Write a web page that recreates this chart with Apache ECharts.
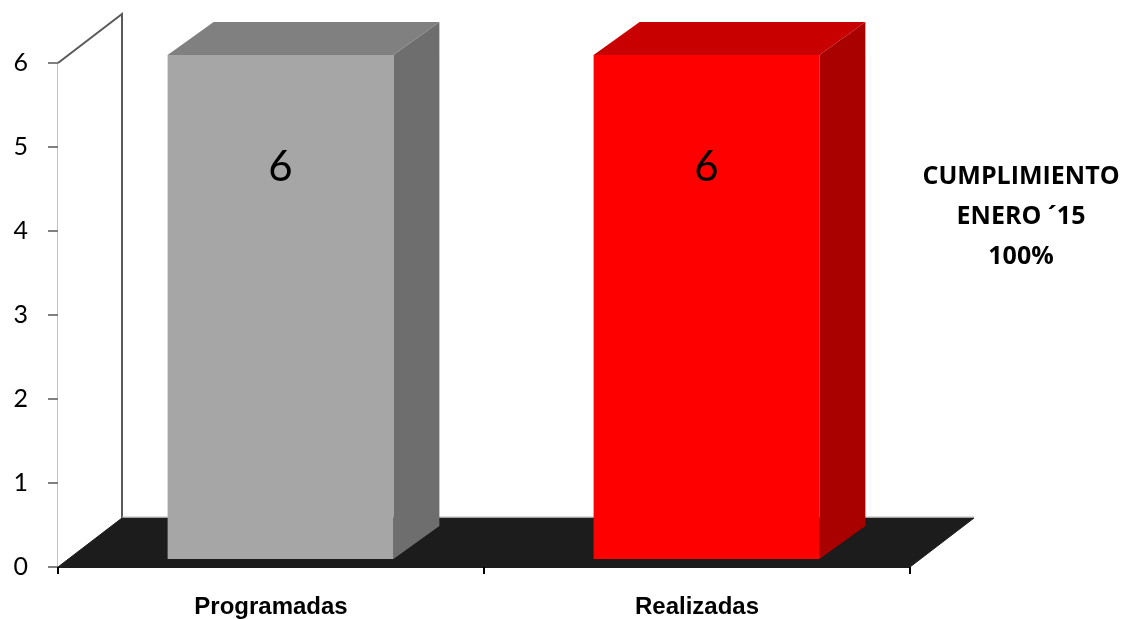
<!DOCTYPE html>
<html>
<head>
<meta charset="utf-8">
<script src="https://cdn.jsdelivr.net/npm/echarts@6/dist/echarts.min.js"></script>
<style>
  html, body { margin: 0; padding: 0; background: #ffffff; }
  #chart { width: 1130px; height: 619px; }
</style>
</head>
<body>
<div id="chart"></div>
<script>
// Activities planned vs. carried out
const categories = ['Programadas', 'Realizadas'];
const values = [6, 6];
const yTicks = [0, 1, 2, 3, 4, 5, 6];
const noteLines = ['CUMPLIMIENTO', 'ENERO \u00b415', '100%'];

// Face colours per bar: front, side, top
const faceColors = [
  { front: '#a6a6a6', side: '#6e6e6e', top: '#808080' },
  { front: '#ff0000', side: '#a90000', top: '#c80000' }
];

// Perspective offsets (pixels)
const WALL_DX = 64, WALL_DY = -49;   // depth of floor / side wall
const BAR_DX = 46, BAR_DY = -33;     // depth of each bar
const BAR_SHIFT_X = 9.5, BAR_SHIFT_Y = -8; // bars sit a little behind the front edge
const BAR_RATIO = 0.53;

const chart = echarts.init(document.getElementById('chart'));

// Floor and left wall, drawn from the axis scale
function renderFrame(params, api) {
  const x0 = api.coord([0, 0]);
  const band = api.size([1, 0])[0];
  const left = x0[0] - band / 2;
  const right = left + band * categories.length;
  const base = x0[1];
  const topY = api.coord([0, yTicks[yTicks.length - 1]])[1];
  return {
    type: 'group',
    children: [
      {
        type: 'polygon',
        shape: { points: [[left, base], [left, topY], [left + WALL_DX, topY + WALL_DY], [left + WALL_DX, base + WALL_DY]] },
        style: { fill: '#ffffff', stroke: null }
      },
      {
        type: 'polyline',
        shape: { points: [[left, topY], [left + WALL_DX, topY + WALL_DY], [left + WALL_DX, base + WALL_DY]] },
        style: { stroke: '#5a5a5a', lineWidth: 2, fill: null }
      },
      {
        type: 'polygon',
        shape: { points: [[left, base], [left + WALL_DX, base + WALL_DY], [right + WALL_DX, base + WALL_DY], [right, base]] },
        style: { fill: '#1c1c1c', stroke: '#1c1c1c', lineWidth: 1 }
      },
      {
        type: 'line',
        shape: { x1: left + WALL_DX, y1: base + WALL_DY - 1, x2: right + WALL_DX, y2: base + WALL_DY - 1 },
        style: { stroke: '#b8b8b8', lineWidth: 1 }
      }
    ]
  };
}

// 3D box for each bar
function renderBar(params, api) {
  const idx = api.value(0);
  const val = api.value(1);
  const top = api.coord([idx, val]);
  const bottom = api.coord([idx, 0]);
  const band = api.size([1, 0])[0];
  const w = band * BAR_RATIO;
  const xl = top[0] - w / 2 + BAR_SHIFT_X;
  const xr = xl + w;
  const yt = top[1] + BAR_SHIFT_Y;
  const yb = bottom[1] + BAR_SHIFT_Y;
  const c = faceColors[idx];
  return {
    type: 'group',
    children: [
      {
        type: 'polygon',
        shape: { points: [[xr, yb], [xr, yt], [xr + BAR_DX, yt + BAR_DY], [xr + BAR_DX, yb + BAR_DY]] },
        style: { fill: c.side }
      },
      {
        type: 'polygon',
        shape: { points: [[xl, yt], [xl + BAR_DX, yt + BAR_DY], [xr + BAR_DX, yt + BAR_DY], [xr, yt]] },
        style: { fill: c.top }
      },
      {
        type: 'rect',
        shape: { x: xl, y: yt, width: w, height: yb - yt },
        style: { fill: c.front }
      },
      {
        type: 'text',
        x: (xl + xr) / 2,
        y: yt + 112,
        style: {
          text: String(val),
          fill: '#000000',
          fontSize: 42,
          fontWeight: 'normal',
          fontFamily: 'Lato, "Noto Sans", sans-serif',
          align: 'center',
          verticalAlign: 'middle'
        }
      }
    ]
  };
}

chart.setOption({
  animation: false,
  backgroundColor: '#ffffff',
  grid: { left: 58, right: 220, top: 63, bottom: 52, containLabel: false },
  title: {
    text: noteLines.join('\n'),
    left: 1016,
    top: 152,
    textAlign: 'center',
    textStyle: {
      fontFamily: '"Open Sans", sans-serif',
      fontWeight: 'bold',
      fontSize: 25,
      lineHeight: 40,
      color: '#000000'
    }
  },
  xAxis: {
    type: 'category',
    data: categories,
    boundaryGap: true,
    axisLine: { show: true, lineStyle: { color: '#1c1c1c', width: 1 } },
    axisTick: { show: true, length: 7, lineStyle: { color: '#000000', width: 2 } },
    axisLabel: {
      margin: 28,
      color: '#000000',
      fontFamily: '"Liberation Sans", Arial, sans-serif',
      fontWeight: 'bold',
      fontSize: 24
    },
    splitLine: { show: false },
    z: 5
  },
  yAxis: {
    type: 'value',
    min: yTicks[0],
    max: yTicks[yTicks.length - 1],
    interval: 1,
    axisLine: { show: true, lineStyle: { color: '#c4c4c4', width: 2 } },
    axisTick: { show: true, length: 10, lineStyle: { color: '#808080', width: 2 } },
    axisLabel: {
      margin: 30,
      color: '#000000',
      fontFamily: 'Lato, "Noto Sans", sans-serif',
      fontSize: 25,
      formatter: v => String(v)
    },
    splitLine: { show: false }
  },
  series: [
    {
      type: 'custom',
      name: 'frame',
      renderItem: renderFrame,
      data: [[0, 0]],
      encode: { x: 0, y: 1 },
      z: 1,
      silent: true
    },
    {
      type: 'custom',
      name: 'bars',
      renderItem: renderBar,
      data: values.map((v, i) => [i, v]),
      encode: { x: 0, y: 1 },
      z: 3
    }
  ]
});
</script>
</body>
</html>
